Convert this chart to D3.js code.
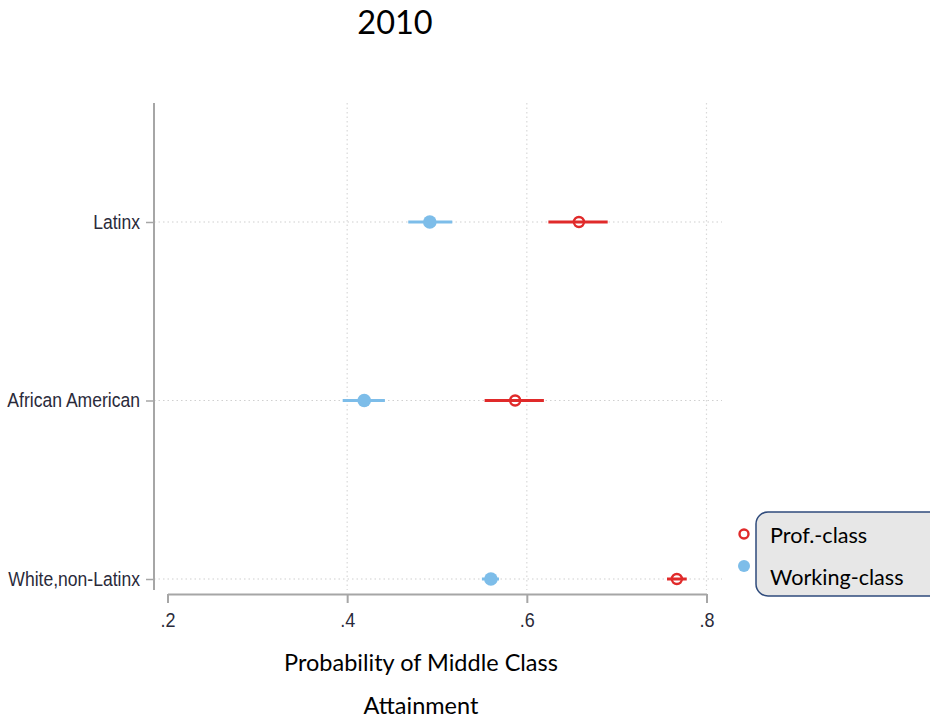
<!DOCTYPE html>
<html>
<head>
<meta charset="utf-8">
<script src="https://cdn.jsdelivr.net/npm/d3@7"></script>
<style>
  body { margin: 0; background: #fff; }
  svg { display: block; }
</style>
</head>
<body>
<svg id="chart" width="930" height="720"></svg>
<script>
// Groups shown on the vertical axis, top to bottom
const groups = ["Latinx", "African American", "White,non-Latinx"];

// Point estimates and 95% confidence bounds, by group
const workEst  = [0.492, 0.419, 0.560];
const workLow  = [0.468, 0.395, 0.550];
const workHigh = [0.517, 0.442, 0.569];

const profEst  = [0.658, 0.587, 0.767];
const profLow  = [0.624, 0.553, 0.756];
const profHigh = [0.690, 0.619, 0.778];

const xTicks = [0.2, 0.4, 0.6, 0.8];
const xTickLabels = [".2", ".4", ".6", ".8"];
const seriesNames = ["Prof.-class", "Working-class"];

const blue = "#7dbde9";
const red = "#e02a2a";
const axisFont = "'Liberation Sans', Arial, sans-serif";
const textFont = "Lato, 'Open Sans', sans-serif";

const svg = d3.select("#chart");

const x = d3.scaleLinear().domain([0.2, 0.8]).range([167.5, 706.5]);
const y = d3.scalePoint().domain(groups).range([222, 579]);

const plotTop = 103, plotBottom = 590, plotLeft = 154, plotRight = 722;

// Title
svg.append("text")
  .attr("x", 395).attr("y", 34)
  .attr("text-anchor", "middle")
  .attr("font-family", textFont)
  .attr("font-size", 32.5)
  .attr("fill", "#000")
  .text("2010");

// Vertical dotted gridlines
svg.append("g").selectAll("line")
  .data(xTicks.slice(1))
  .join("line")
  .attr("x1", d => x(d)).attr("x2", d => x(d))
  .attr("y1", plotTop).attr("y2", plotBottom)
  .attr("stroke", "#d9d9d9").attr("stroke-width", 1.2)
  .attr("stroke-dasharray", "1.5,3");

// Horizontal dotted gridlines
svg.append("g").selectAll("line")
  .data(groups)
  .join("line")
  .attr("x1", plotLeft).attr("x2", plotRight)
  .attr("y1", d => y(d)).attr("y2", d => y(d))
  .attr("stroke", "#d0d0d0").attr("stroke-width", 1.2)
  .attr("stroke-dasharray", "1.5,3");

// Y axis (left)
const yAxis = d3.axisLeft(y).tickSize(8).tickPadding(6);
const gy = svg.append("g").attr("transform", `translate(${plotLeft},0)`).call(yAxis);
gy.select(".domain").remove();
gy.append("line")
  .attr("x1", 0).attr("x2", 0).attr("y1", plotTop).attr("y2", plotBottom)
  .attr("stroke", "#a6a6a6").attr("stroke-width", 2);
gy.selectAll(".tick line").attr("stroke", "#a6a6a6").attr("stroke-width", 1.5);
// Condensed labels: taller glyphs, narrower advance
gy.selectAll(".tick text")
  .attr("font-family", axisFont)
  .attr("font-size", 19.5).attr("fill", "#2a2a3a")
  .attr("transform", "scale(0.9,1)")
  .attr("x", -14 / 0.9);

// X axis (bottom)
const xAxis = d3.axisBottom(x).tickValues(xTicks)
  .tickFormat((d, i) => xTickLabels[i]).tickSize(9).tickPadding(10).tickSizeOuter(0);
const gx = svg.append("g").attr("transform", "translate(0,594)").call(xAxis);
gx.select(".domain").attr("stroke", "#a6a6a6").attr("stroke-width", 2);
gx.selectAll(".tick line").attr("stroke", "#a6a6a6").attr("stroke-width", 2);
gx.selectAll(".tick text")
  .attr("font-family", axisFont)
  .attr("font-size", 20).attr("fill", "#2a2a3a")
  .attr("transform", "scale(0.9,1)");

// Confidence interval bars
function ciBars(low, high, color) {
  svg.append("g").selectAll("line")
    .data(groups)
    .join("line")
    .attr("x1", (d, i) => x(low[i])).attr("x2", (d, i) => x(high[i]))
    .attr("y1", d => y(d)).attr("y2", d => y(d))
    .attr("stroke", color).attr("stroke-width", 3);
}
ciBars(workLow, workHigh, blue);
ciBars(profLow, profHigh, red);

// Working-class points (filled)
svg.append("g").selectAll("circle")
  .data(groups)
  .join("circle")
  .attr("cx", (d, i) => x(workEst[i])).attr("cy", d => y(d))
  .attr("r", 6.8).attr("fill", blue);

// Professional-class points (hollow, interval shows through)
svg.append("g").selectAll("circle")
  .data(groups)
  .join("circle")
  .attr("cx", (d, i) => x(profEst[i])).attr("cy", d => y(d))
  .attr("r", 5).attr("fill", "none")
  .attr("stroke", red).attr("stroke-width", 2.4);

// X axis title
const xt = svg.append("g")
  .attr("font-family", textFont)
  .attr("font-size", 23.5).attr("fill", "#000")
  .attr("text-anchor", "middle");
xt.append("text").attr("x", 421).attr("y", 671).text("Probability of Middle Class");
xt.append("text").attr("x", 421).attr("y", 714).text("Attainment");

// Legend
const lg = svg.append("g");
lg.append("rect")
  .attr("x", 756).attr("y", 512).attr("width", 190).attr("height", 84)
  .attr("rx", 12).attr("ry", 12)
  .attr("fill", "#e7e7e7").attr("stroke", "#2f4b7c").attr("stroke-width", 1.5);
lg.append("circle").attr("cx", 744).attr("cy", 534).attr("r", 4.5)
  .attr("fill", "#fff").attr("stroke", red).attr("stroke-width", 2.4);
lg.append("circle").attr("cx", 744).attr("cy", 566).attr("r", 6).attr("fill", blue);
lg.selectAll("text.lab")
  .data(seriesNames)
  .join("text")
  .attr("class", "lab")
  .attr("x", 770).attr("y", (d, i) => 543 + i * 42)
  .attr("font-family", textFont)
  .attr("font-size", 21.6).attr("fill", "#000")
  .text(d => d);
</script>
</body>
</html>
